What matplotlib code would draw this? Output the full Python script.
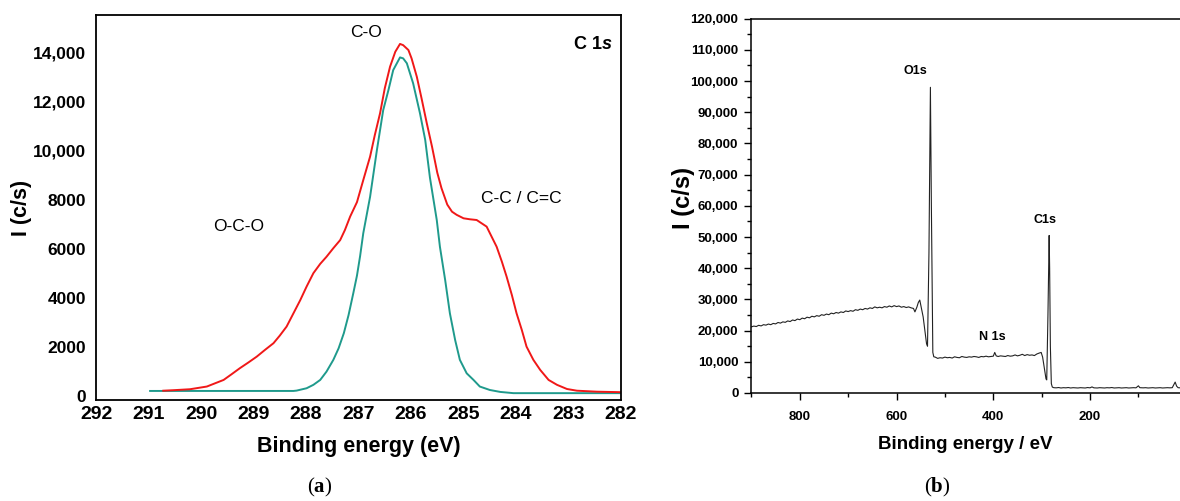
import matplotlib
matplotlib.use("Agg")
import matplotlib.pyplot as plt
from matplotlib.ticker import FixedLocator, MultipleLocator

plt.rcParams['font.family'] = ['Liberation Sans', 'DejaVu Sans']
plt.rcParams['mathtext.fontset'] = 'custom'
plt.rcParams['mathtext.rm'] = 'Liberation Serif'
plt.rcParams['mathtext.bf'] = 'Liberation Serif:bold'
plt.rcParams['mathtext.it'] = 'Liberation Sans:italic:bold'

# ---- (a) C 1s high resolution spectrum ----
# envelope (red)
envE = [290.72, 290.53, 290.21, 289.89, 289.57, 289.42, 289.26, 289.10, 288.94, 288.78,
        288.62, 288.50, 288.37, 288.24, 288.11, 287.99, 287.86, 287.73, 287.61, 287.48,
        287.35, 287.26, 287.16, 287.03, 286.91, 286.78, 286.69, 286.59, 286.50, 286.40,
        286.30, 286.21, 286.15, 286.05, 285.99, 285.89, 285.80, 285.70, 285.60, 285.50,
        285.42, 285.31, 285.22, 285.13, 285.00, 284.88, 284.75, 284.56, 284.37, 284.27,
        284.18, 284.08, 283.99, 283.89, 283.80, 283.67, 283.54, 283.38, 283.22, 283.03,
        282.84, 282.46, 282.02]
envI = [200, 220, 260, 370, 640, 870, 1120, 1350, 1590, 1870,
        2140, 2450, 2820, 3360, 3900, 4450, 5000, 5380, 5670, 6020,
        6350, 6760, 7310, 7900, 8800, 9760, 10640, 11530, 12550, 13430,
        14040, 14360, 14310, 14110, 13770, 13020, 12140, 11120, 10160, 9100,
        8470, 7800, 7510, 7380, 7240, 7200, 7170, 6900, 6080, 5470,
        4860, 4110, 3360, 2680, 2000, 1460, 1050, 640, 440, 270,
        200, 160, 140]

# C-O component (teal)
coE = [290.97, 288.24, 288.18, 287.99, 287.86, 287.73, 287.61, 287.48, 287.38, 287.28,
       287.19, 287.10, 287.03, 286.97, 286.91, 286.78, 286.65, 286.53, 286.43, 286.34,
       286.21, 286.15, 286.08, 285.96, 285.83, 285.73, 285.64, 285.51, 285.45, 285.35,
       285.26, 285.16, 285.07, 284.94, 284.81, 284.69, 284.50, 284.30, 284.05, 282.02]
coI = [190, 190, 204, 300, 440, 640, 980, 1460, 1930, 2550,
       3290, 4180, 4900, 5700, 6630, 8120, 10030, 11660, 12480, 13290,
       13810, 13770, 13570, 12750, 11530, 10440, 8900, 7170, 6080, 4720,
       3360, 2270, 1460, 910, 640, 370, 230, 150, 100, 100]

a_xticks = [292, 291, 290, 289, 288, 287, 286, 285, 284, 283, 282]
a_yticks = [0, 2000, 4000, 6000, 8000, 10000, 12000, 14000]
a_ylabels = ['0', '2000', '4000', '6000', '8000', '10,000', '12,000', '14,000']

# ---- (b) survey spectrum ----
surE = [900, 895, 890, 885, 880, 875, 870, 865, 860, 855, 850, 845, 840, 835, 830, 825,
        820, 815, 810, 805, 800, 795, 790, 785, 780, 775, 770, 765, 760, 755, 750, 745,
        740, 735, 730, 725, 720, 715, 710, 705, 700, 695, 690, 685, 680, 675, 670, 665,
        660, 655, 650, 645, 640, 635, 630, 625, 620, 615, 610, 605, 600, 595, 590, 585,
        580, 575, 570, 565, 562, 558, 555, 552, 549, 545, 541, 538, 536, 533, 530, 528,
        525, 523, 520, 515, 510, 505, 500, 495, 490, 485, 480, 475, 470, 465, 460, 455,
        450, 445, 440, 435, 430, 425, 420, 415, 410, 405, 400, 397, 394, 390, 385, 380,
        375, 370, 365, 360, 355, 350, 345, 340, 335, 330, 325, 320, 315, 310, 305, 301,
        298, 294, 291, 289.5, 287, 284.5, 283.5, 282, 280, 278, 275, 270, 265, 260, 255,
        250, 245, 240, 235, 230, 225, 220, 215, 210, 205, 200, 196, 192, 185, 180, 175,
        170, 165, 160, 155, 150, 145, 140, 135, 130, 125, 120, 115, 110, 105, 100, 97,
        90, 85, 80, 75, 70, 65, 60, 55, 50, 45, 40, 35, 30, 27, 24, 21, 18, 14]
surI = [21200, 21450, 21300, 21700, 21500, 21900, 21750, 22100, 21900, 22300, 22150, 22600,
        22400, 22800, 22650, 23100, 22900, 23400, 23200, 23700, 23500, 24000, 23800, 24300,
        24100, 24600, 24400, 24800, 24600, 25100, 24900, 25300, 25100, 25600, 25400, 25800,
        25600, 26000, 25800, 26300, 26100, 26400, 26200, 26700, 26500, 26900, 26700, 27100,
        26900, 27300, 27100, 27600, 27300, 27500, 27300, 27700, 27500, 27900, 27600, 28000,
        27700, 27900, 27500, 27700, 27400, 27600, 27300, 27100, 26000, 27500, 29000, 29800,
        27500, 24400, 19500, 15800, 15000, 45000, 98000, 60000,
        13000, 11600, 11500, 11100, 11300, 11200, 11500, 11300, 11400, 11200, 11600, 11400,
        11300, 11700, 11500, 11400, 11600, 11500, 11700, 11600, 11400, 11700, 11600, 11800,
        11600, 11700, 11800, 13000, 11900, 11700, 11900, 11800, 11700, 12000, 11800, 11900,
        12200, 11900, 12100, 12400, 12000, 12300, 12100, 12200, 12000, 12500, 12800, 13000,
        11500, 7500, 4500, 4200, 25000, 50500, 40000, 15000, 3000, 1900, 1700, 1650, 1750,
        1600, 1700, 1650, 1750, 1600, 1700, 1650, 1600, 1700, 1650, 1600, 1750, 1650, 1950,
        1650, 1600, 1700, 1650, 1600, 1700, 1650, 1750, 1600, 1650, 1700, 1600, 1650, 1700,
        1600, 1650, 1700, 1650, 2300, 1700, 1650, 1700, 1600, 1650, 1700, 1600, 1650, 1700,
        1600, 1650, 1700, 1650, 1700, 2600, 3500, 2200, 1700, 1650]

b_yticks = [0, 10000, 20000, 30000, 40000, 50000, 60000, 70000, 80000, 90000, 100000, 110000, 120000]
b_ylabels = ['0', '10,000', '20,000', '30,000', '40,000', '50,000', '60,000', '70,000',
             '80,000', '90,000', '100,000', '110,000', '120,000']
b_xticks = [800, 600, 400, 200]

fig = plt.figure(figsize=(11.8, 5.01), dpi=100)

# panel a
ax1 = fig.add_axes([0.0814, 0.2006, 0.4449, 0.7694])
ax1.plot(coE, coI, color='#1f9a8c', lw=1.4)
ax1.plot(envE, envI, color='#f01818', lw=1.4)
ax1.set_xlim(292, 282)
ax1.set_ylim(-200, 15540)
ax1.xaxis.set_major_locator(FixedLocator(a_xticks))
ax1.set_xticklabels([str(t) for t in a_xticks], fontsize=14, fontweight='bold')
ax1.yaxis.set_major_locator(FixedLocator(a_yticks))
ax1.set_yticklabels(a_ylabels, fontsize=12.5, fontweight='bold')
ax1.tick_params(axis='x', length=0, pad=4)
ax1.tick_params(axis='y', length=0, pad=7)
for s in ax1.spines.values():
    s.set_linewidth(1.3)
ax1.set_xlabel('Binding energy (eV)', fontsize=15.5, fontweight='bold', labelpad=9)
ax1.set_ylabel('I (c/s)', fontsize=15.5, fontweight='bold')
ax1.yaxis.set_label_coords(-0.122, 0.5)

ax1.text(286.86, 14845, 'C-O', fontsize=12.5, ha='center', va='center')
ax1.text(282.17, 14355, r'C 1$s$', fontsize=13, fontweight='bold', ha='right', va='center')
ax1.text(289.29, 6886, 'O-C-O', fontsize=12.5, ha='center', va='center')
ax1.text(283.89, 8029, 'C-C / C=C', fontsize=12.5, ha='center', va='center')

# panel b
ax2 = fig.add_axes([0.6364, 0.2156, 0.3636, 0.7471])
ax2.plot(surE, surI, color='#222222', lw=0.8)
ax2.set_xlim(901, 14)
ax2.set_ylim(0, 120000)
ax2.xaxis.set_major_locator(FixedLocator(b_xticks))
ax2.xaxis.set_minor_locator(MultipleLocator(100))
ax2.set_xticklabels([str(t) for t in b_xticks], fontsize=9.5, fontweight='bold')
ax2.yaxis.set_major_locator(FixedLocator(b_yticks))
ax2.yaxis.set_minor_locator(MultipleLocator(5000))
ax2.set_yticklabels(b_ylabels, fontsize=9.5, fontweight='bold')
ax2.tick_params(which='major', direction='out', length=5, width=1, pad=4)
ax2.tick_params(axis='x', which='major', pad=8)
ax2.tick_params(which='minor', direction='out', length=3, width=1)
ax2.spines['right'].set_visible(False)
for s in ['left', 'bottom', 'top']:
    ax2.spines[s].set_linewidth(1.1)
ax2.set_xlabel('Binding energy / eV', fontsize=13.5, fontweight='bold', labelpad=9)
ax2.set_ylabel('I (c/s)', fontsize=17, fontweight='bold')
ax2.yaxis.set_label_coords(-0.13, 0.52)

ax2.text(562, 103360, 'O1s', fontsize=9, fontweight='bold', ha='center', va='center')
ax2.text(293, 55360, 'C1s', fontsize=9, fontweight='bold', ha='center', va='center')
ax2.text(401.7, 18016, 'N 1s', fontsize=9, fontweight='bold', ha='center', va='center')

# captions
fig.text(320 / 1180, 1 - 487 / 501, r'$\mathrm{(}\mathbf{a}\mathrm{)}$', fontsize=15, ha='center', va='center')
fig.text(937 / 1180, 1 - 487 / 501, r'$\mathrm{(}\mathbf{b}\mathrm{)}$', fontsize=15, ha='center', va='center')

fig.savefig('out.png', dpi=100)
